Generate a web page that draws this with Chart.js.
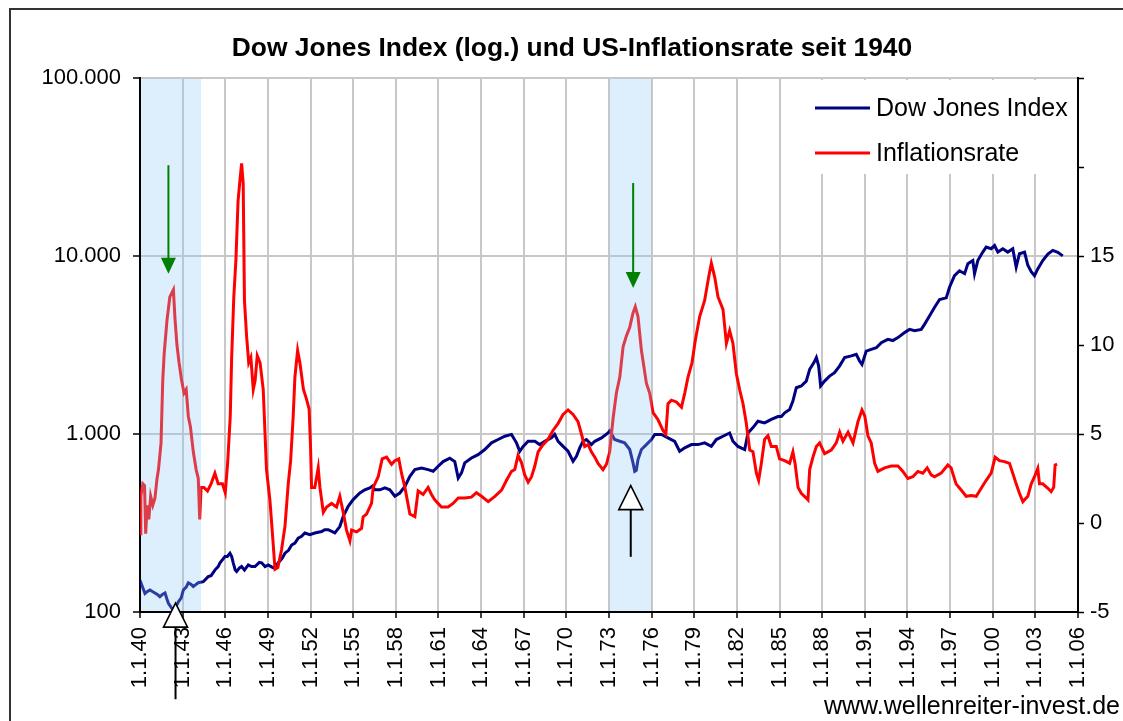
<!DOCTYPE html>
<html><head><meta charset="utf-8">
<script src="https://cdn.jsdelivr.net/npm/chart.js@4.4.1/dist/chart.umd.min.js"></script>
<style>html,body{margin:0;padding:0;background:#fff;overflow:hidden}#wrap{position:relative;width:1123px;height:721px}</style>
</head><body><div id="wrap"><canvas id="c" width="1123" height="721"></canvas></div>
<script>
// ---- data ----
const titleText = 'Dow Jones Index (log.) und US-Inflationsrate seit 1940';
const seriesNames = ['Dow Jones Index', 'Inflationsrate'];
const sourceText = 'www.wellenreiter-invest.de';

const dowYears = [1940.00,1940.15,1940.35,1940.50,1940.70,1940.90,1941.05,1941.25,1941.40,1941.60,1941.76,1941.90,1942.00,1942.20,1942.35,1942.55,1942.70,1942.90,1943.05,1943.25,1943.40,1943.60,1943.75,1943.90,1944.10,1944.45,1944.80,1945.00,1945.27,1945.50,1945.63,1945.98,1946.15,1946.33,1946.45,1946.56,1946.70,1946.80,1947.00,1947.15,1947.35,1947.62,1947.85,1948.09,1948.40,1948.56,1948.80,1949.02,1949.37,1949.55,1949.73,1950.00,1950.20,1950.45,1950.67,1950.90,1951.13,1951.37,1951.60,1951.95,1952.30,1952.78,1953.00,1953.24,1953.71,1954.06,1954.30,1954.65,1955.00,1955.47,1955.82,1956.17,1956.35,1956.53,1956.88,1957.23,1957.58,1957.93,1958.28,1958.64,1958.99,1959.34,1959.81,1960.27,1960.63,1960.98,1961.33,1961.80,1962.15,1962.39,1962.62,1962.85,1963.32,1963.79,1964.26,1964.73,1965.20,1965.67,1966.14,1966.49,1966.72,1966.96,1967.31,1967.78,1968.13,1968.48,1968.95,1969.18,1969.42,1969.77,1970.12,1970.47,1970.71,1970.94,1971.17,1971.41,1971.76,1972.00,1972.47,1972.93,1973.05,1973.40,1973.76,1974.10,1974.46,1974.69,1974.81,1974.92,1975.04,1975.28,1975.63,1975.98,1976.22,1976.69,1977.15,1977.62,1977.97,1978.33,1978.80,1979.26,1979.73,1980.20,1980.55,1981.02,1981.49,1981.72,1982.07,1982.55,1982.78,1983.13,1983.48,1983.95,1984.42,1984.89,1985.13,1985.36,1985.71,1985.94,1986.18,1986.53,1986.88,1987.12,1987.42,1987.59,1987.75,1987.89,1988.17,1988.52,1988.87,1989.23,1989.58,1990.05,1990.40,1990.63,1990.80,1991.10,1991.45,1991.81,1992.16,1992.62,1992.97,1993.33,1993.80,1994.15,1994.50,1994.97,1995.20,1995.55,1995.90,1996.26,1996.73,1996.96,1997.31,1997.66,1998.02,1998.25,1998.60,1998.72,1998.95,1999.30,1999.54,1999.89,2000.13,2000.36,2000.71,2001.06,2001.41,2001.65,2001.88,2002.24,2002.47,2002.71,2002.94,2003.17,2003.52,2003.88,2004.23,2004.58,2004.93];
const dowValues = [151,140,127,130,133,130,128,125,122,126,128,118,112,106,103,108,114,120,133,138,146,143,139,142,146,148,158,160,172,180,189,205,205,214,205,189,172,169,177,180,172,184,180,180,190,189,180,184,177,180,189,200,214,222,238,244,260,266,278,272,278,283,290,290,278,302,345,392,428,466,486,498,510,486,486,498,486,447,466,508,578,631,644,631,618,659,700,731,700,566,605,688,733,766,818,892,931,971,995,892,800,852,910,910,872,910,951,995,910,852,800,703,750,836,910,931,872,910,951,1013,1040,931,910,892,818,688,617,625,718,818,872,931,995,995,951,910,800,836,872,872,892,852,931,971,1013,910,852,818,1013,1087,1180,1155,1209,1254,1254,1315,1372,1532,1820,1860,1982,2310,2519,2690,2414,1860,1982,2115,2210,2414,2690,2746,2800,2570,2460,2920,2990,3050,3260,3400,3350,3480,3720,3870,3800,3870,4130,4600,5140,5700,5820,6680,7750,8260,7960,9040,9430,7960,9430,10520,11220,10990,11450,10520,10990,10520,10990,8670,10300,10520,8870,8160,7750,8460,9430,10260,10760,10500,10020];

const inflYears = [1940.00,1940.06,1940.20,1940.32,1940.40,1940.50,1940.62,1940.75,1940.90,1941.05,1941.20,1941.30,1941.48,1941.60,1941.70,1941.90,1942.10,1942.35,1942.46,1942.60,1942.75,1942.93,1943.10,1943.25,1943.40,1943.55,1943.75,1943.95,1944.10,1944.20,1944.30,1944.50,1944.75,1945.00,1945.27,1945.50,1945.80,1946.00,1946.17,1946.35,1946.45,1946.60,1946.75,1946.90,1947.05,1947.15,1947.26,1947.35,1947.50,1947.65,1947.80,1947.97,1948.10,1948.25,1948.45,1948.67,1948.90,1949.14,1949.30,1949.50,1949.70,1949.96,1950.20,1950.43,1950.60,1950.78,1950.90,1951.09,1951.25,1951.50,1951.70,1951.90,1952.00,1952.07,1952.30,1952.54,1952.66,1952.90,1953.13,1953.48,1953.83,1954.06,1954.30,1954.53,1954.77,1954.89,1955.24,1955.59,1955.70,1955.94,1956.29,1956.41,1956.76,1957.04,1957.35,1957.70,1957.93,1958.21,1958.40,1958.64,1958.99,1959.34,1959.57,1959.92,1960.27,1960.51,1960.74,1961.21,1961.68,1962.03,1962.39,1962.85,1963.32,1963.67,1964.03,1964.50,1964.97,1965.44,1965.79,1966.14,1966.37,1966.60,1966.84,1967.07,1967.31,1967.55,1967.78,1968.01,1968.36,1968.71,1969.06,1969.42,1969.77,1970.12,1970.47,1970.82,1971.06,1971.29,1971.53,1971.76,1972.00,1972.23,1972.58,1972.82,1973.05,1973.29,1973.52,1973.76,1973.99,1974.22,1974.46,1974.69,1974.85,1975.04,1975.28,1975.63,1975.86,1976.10,1976.45,1976.80,1977.00,1977.15,1977.39,1977.74,1978.10,1978.33,1978.56,1978.84,1979.08,1979.38,1979.73,1980.01,1980.20,1980.44,1980.67,1981.02,1981.26,1981.49,1981.72,1981.96,1982.19,1982.43,1982.66,1982.90,1983.13,1983.37,1983.53,1983.72,1983.95,1984.18,1984.42,1984.77,1985.00,1985.36,1985.71,1985.94,1986.10,1986.30,1986.53,1986.88,1987.00,1987.12,1987.35,1987.59,1987.82,1988.17,1988.64,1988.99,1989.23,1989.46,1989.82,1990.17,1990.52,1990.80,1991.00,1991.22,1991.45,1991.69,1991.92,1992.39,1992.86,1993.33,1993.68,1994.03,1994.38,1994.73,1995.08,1995.39,1995.67,1995.90,1996.37,1996.84,1997.07,1997.42,1997.78,1998.13,1998.48,1998.84,1999.19,1999.54,1999.89,2000.17,2000.47,2000.83,2001.18,2001.41,2001.65,2001.88,2002.12,2002.47,2002.71,2002.94,2003.17,2003.29,2003.52,2003.88,2004.11,2004.29,2004.39,2004.53];
const inflValues = [-0.6,1.5,2.2,2.1,-0.6,1.0,0.2,1.5,1.0,1.4,2.5,3.0,4.5,8.0,9.5,11.4,12.7,13.1,11.5,10.0,9.0,8.0,7.3,7.5,6.0,5.4,4.0,3.0,2.5,0.2,2.0,2.0,1.8,2.2,2.8,2.2,2.2,1.7,3.4,6.0,9.3,12.7,14.8,18.1,19.4,20.2,19.1,12.5,10.5,9.0,9.3,7.5,8.0,9.4,9.0,7.5,3.0,1.3,-0.4,-2.6,-2.5,-1.5,-0.2,2.2,3.5,6.0,8.2,9.7,9.0,7.5,7.0,6.4,4.3,2.0,2.0,3.1,2.0,0.6,0.9,1.1,0.9,1.5,0.6,-0.4,-1.0,-0.4,-0.5,-0.3,0.35,0.5,1.1,2.0,2.6,3.6,3.7,3.3,3.5,3.6,2.8,2.0,0.5,0.35,1.8,1.6,2.0,1.6,1.3,0.9,0.9,1.1,1.4,1.4,1.45,1.7,1.5,1.2,1.5,1.85,2.4,2.9,3.0,3.8,3.4,2.7,2.3,2.6,3.2,4.0,4.4,4.7,5.2,5.6,6.1,6.35,6.1,5.7,5.0,4.3,4.4,4.0,3.7,3.35,3.0,3.3,4.0,5.9,7.3,8.2,9.9,10.5,11.0,11.8,12.15,11.6,9.7,7.85,7.3,6.2,5.8,5.2,5.0,6.7,6.9,6.8,6.5,7.3,8.2,9.0,10.3,11.6,12.5,13.8,14.6,13.8,12.7,12.0,10.1,10.8,10.1,8.4,7.5,6.7,5.6,4.1,4.0,2.8,2.4,3.35,4.7,4.9,4.3,4.3,3.6,3.5,3.35,4.0,3.3,2.0,1.67,1.4,1.3,3.0,3.7,4.3,4.5,3.9,4.1,4.5,5.1,4.6,5.1,4.5,5.7,6.35,6.0,4.9,4.5,3.35,2.9,3.1,3.2,3.2,2.9,2.5,2.6,2.9,2.8,3.1,2.7,2.6,2.8,3.26,3.1,2.2,1.85,1.5,1.55,1.5,1.95,2.4,2.8,3.7,3.5,3.45,3.35,2.8,2.2,1.67,1.2,1.5,2.2,2.6,3.07,2.2,2.2,1.95,1.76,2.0,3.26,3.3];

// annotations (data coordinates: x in years, y on the inflation axis)
const shadeBands = [[1940, 1944.3], [1973, 1976]];
const greenArrows = [{x: 1942.0, from: 20.1, to: 14.0}, {x: 1974.7, from: 19.1, to: 13.2}];
const openArrows = [{x: 1942.5, tip: -4.5, tail: -9.9}, {x: 1974.53, tip: 2.1, tail: -1.9}];

// ---- chart ----
const FONT = "'Liberation Sans', Arial, sans-serif";
Chart.defaults.font.family = FONT;
Chart.defaults.color = '#000';

function deFmt(v) { return String(Math.round(v)).replace(/\B(?=(\d{3})+(?!\d))/g, '.'); }

const decor = {
  id: 'decor',
  beforeDraw(chart) {
    const ctx = chart.ctx;
    ctx.save();
    ctx.fillStyle = '#fff';
    ctx.fillRect(0, 0, chart.width, chart.height);
    ctx.strokeStyle = '#333';
    ctx.lineWidth = 2;
    ctx.beginPath();
    ctx.moveTo(10, 722); ctx.lineTo(10, 9); ctx.lineTo(1124, 9);
    ctx.stroke();
    ctx.fillStyle = '#000';
    ctx.font = 'bold 26.4px ' + FONT;
    ctx.textAlign = 'center';
    ctx.textBaseline = 'alphabetic';
    ctx.fillText(titleText, 572, 56);
    ctx.font = '25px ' + FONT;
    ctx.textAlign = 'left';
    ctx.fillText(sourceText, 824, 714);
    ctx.restore();
  },
  afterDatasetsDraw(chart) {
    const ctx = chart.ctx, a = chart.chartArea, xs = chart.scales.x;
    ctx.save();
    ctx.fillStyle = 'rgba(142,200,245,0.30)';
    shadeBands.forEach(([s, e]) => {
      const x0 = Math.max(xs.getPixelForValue(s), a.left + 1);
      const x1 = xs.getPixelForValue(e);
      ctx.fillRect(x0, a.top + 1, x1 - x0, a.bottom - a.top - 2);
    });
    // legend
    ctx.fillStyle = '#fff';
    ctx.fillRect(812, a.top + 2, a.right - 813, 94);
    const cols = ['#000080', '#ff0000'];
    const ly = [108, 153];
    ctx.font = '25px ' + FONT;
    ctx.textBaseline = 'middle';
    ctx.textAlign = 'left';
    for (let i = 0; i < 2; i++) {
      ctx.strokeStyle = cols[i]; ctx.lineWidth = 3;
      ctx.beginPath(); ctx.moveTo(815, ly[i]); ctx.lineTo(870, ly[i]); ctx.stroke();
      ctx.fillStyle = '#000';
      ctx.fillText(seriesNames[i], 876, ly[i] + 1);
    }
    ctx.restore();
  },
  afterDraw(chart) {
    const ctx = chart.ctx, xs = chart.scales.x, ys = chart.scales.y1;
    ctx.save();
    greenArrows.forEach(g => {
      const x = xs.getPixelForValue(g.x), y0 = ys.getPixelForValue(g.from), y1 = ys.getPixelForValue(g.to);
      ctx.strokeStyle = '#008000'; ctx.fillStyle = '#008000'; ctx.lineWidth = 2;
      ctx.beginPath(); ctx.moveTo(x, y0); ctx.lineTo(x, y1 - 10); ctx.stroke();
      ctx.beginPath(); ctx.moveTo(x - 7.5, y1 - 16); ctx.lineTo(x + 7.5, y1 - 16); ctx.lineTo(x, y1); ctx.closePath(); ctx.fill();
    });
    openArrows.forEach(o => {
      const x = xs.getPixelForValue(o.x), yt = ys.getPixelForValue(o.tip), yb = ys.getPixelForValue(o.tail);
      ctx.strokeStyle = '#000'; ctx.lineWidth = 2;
      ctx.beginPath(); ctx.moveTo(x, yt + 24); ctx.lineTo(x, yb); ctx.stroke();
      ctx.fillStyle = '#fff';
      ctx.beginPath(); ctx.moveTo(x, yt); ctx.lineTo(x + 12, yt + 24); ctx.lineTo(x - 12, yt + 24); ctx.closePath();
      ctx.fill(); ctx.lineWidth = 1.6; ctx.stroke();
    });
    ctx.restore();
  }
};

const gridCol = '#c8c8c8';
new Chart(document.getElementById('c'), {
  type: 'line',
  data: {
    datasets: [
      { label: seriesNames[0], data: dowYears.map((x, i) => ({x, y: dowValues[i]})), yAxisID: 'y',
        borderColor: '#000080', borderWidth: 3, pointRadius: 0, tension: 0, order: 2 },
      { label: seriesNames[1], data: inflYears.map((x, i) => ({x, y: inflValues[i]})), yAxisID: 'y1',
        borderColor: '#ff0000', borderWidth: 3, pointRadius: 0, tension: 0, order: 1 }
    ]
  },
  options: {
    responsive: false, animation: false, devicePixelRatio: 1,
    layout: { padding: { top: 78, left: 0, right: 0, bottom: 0 } },
    plugins: { legend: { display: false }, title: { display: false }, tooltip: { enabled: false } },
    scales: {
      x: {
        type: 'linear', min: 1940, max: 2006,
        afterFit(s) { s.height = 109; },
        ticks: { stepSize: 3, autoSkip: false, minRotation: 90, maxRotation: 90, padding: 9,
                 font: { size: 22 }, color: '#000',
                 callback: v => '1.1.' + String(Math.round(v) % 100).padStart(2, '0') },
        grid: { color: gridCol, lineWidth: 2, tickColor: '#000', tickLength: 6, tickWidth: 1.5 },
        border: { display: true, color: '#000', width: 2 }
      },
      y: {
        type: 'logarithmic', position: 'left', min: 100, max: 100000,
        afterFit(s) { s.width = 140; },
        afterBuildTicks(s) { s.ticks = [100, 1000, 10000, 100000].map(v => ({value: v, major: true})); },
        ticks: { font: { size: 22 }, color: '#000', padding: 12, callback: v => deFmt(v) },
        grid: { color: gridCol, lineWidth: 2, tickColor: '#000', tickLength: 7, tickWidth: 1.5 },
        border: { display: true, color: '#000', width: 2 }
      },
      y1: {
        type: 'linear', position: 'right', min: -5, max: 25,
        afterFit(s) { s.width = 45; },
        ticks: { stepSize: 5, font: { size: 22 }, color: '#000', padding: 6,
                 callback: v => (v > 15 ? '' : String(v)) },
        grid: { drawOnChartArea: false, tickColor: '#000', tickLength: 6, tickWidth: 1.5 },
        border: { display: true, color: '#000', width: 2 }
      }
    }
  },
  plugins: [decor]
});
</script>
</body></html>
